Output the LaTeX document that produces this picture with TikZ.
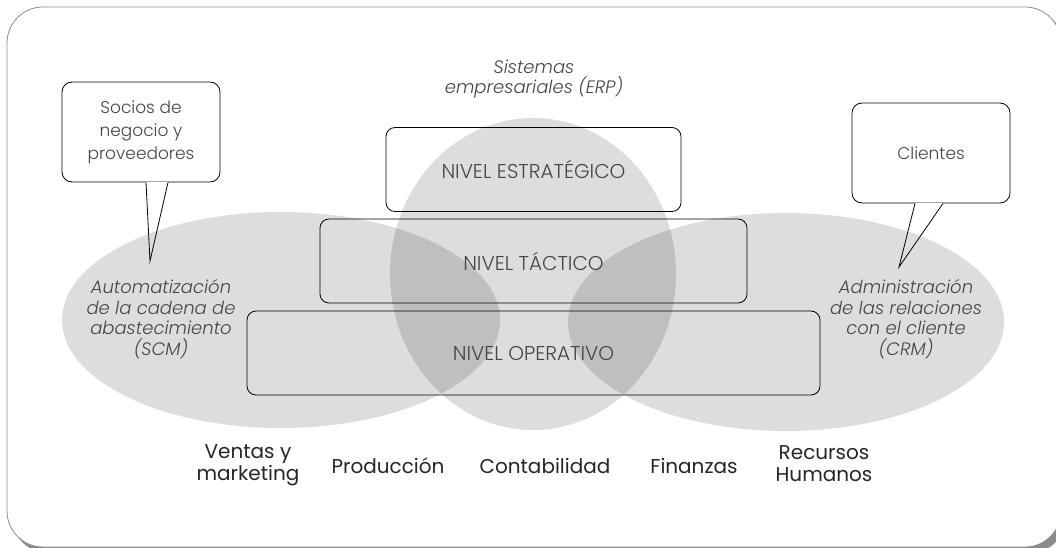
\documentclass[tikz,border=0pt]{standalone}
\usepackage{fontspec}
\setmainfont{Poppins}
\newfontfamily\lightfont{Poppins Light}
\usetikzlibrary{positioning}

\definecolor{inkgray}{RGB}{70,70,70}
\definecolor{framegray}{RGB}{140,140,140}

\tikzset{
  area/.style={fill=black, fill opacity=0.135},
  level/.style={draw, line width=0.8pt, rounded corners=9, minimum height=84,
    text=inkgray, font=\lightfont\fontsize{20}{22}\selectfont},
  bubble/.style={draw, line width=0.8pt, rounded corners=10, minimum width=158,
    minimum height=100, align=center, text=inkgray,
    font=\lightfont\fontsize{17}{23}\selectfont},
  note/.style={align=center, text=inkgray, font=\lightfont\itshape\fontsize{18}{20.5}\selectfont},
  dept/.style={align=center, text=black!85, font=\fontsize{20}{22}\selectfont}
}

\begin{document}
\begin{tikzpicture}[x=1pt,y=-1pt]
        \useasboundingbox (0,0) rectangle (1056,548);

        % frame with shadow
        \fill[black!45, rounded corners=36] (12,12) rectangle (1066,553);
        \filldraw[draw=framegray, fill=white, line width=0.8pt, rounded corners=36] (7,7) rectangle (1061,547);

        % overlapping areas
        \fill[area] (281,320) ellipse [x radius=219, y radius=108];
        \fill[area] (786,322) ellipse [x radius=218, y radius=109];
        \fill[area] (533,274) ellipse [x radius=143, y radius=156];

        % levels
        \node[level, minimum width=295] (estrategico) at (533.5,169.5) {NIVEL ESTRATÉGICO};
        \node[level, minimum width=427] (tactico) at (533.5,261) {NIVEL TÁCTICO};
        \node[level, minimum width=573] (operativo) at (533.5,353) {NIVEL OPERATIVO};

        % area labels
        \node[note] (erp) at (534,79) {Sistemas\\empresariales (ERP)};
        \node[note] (scm) at (161,319) {Automatización\\de la cadena de\\abastecimiento\\(SCM)};
        \node[note] (crm) at (906,319) {Administración\\de las relaciones\\con el cliente\\(CRM)};

        % callouts
        \node[bubble] (socios) at (141,132) {Socios de\\negocio y\\proveedores};
        \coordinate (sociostip) at (150,261);
        \draw[white, line width=1.4pt] ([xshift=5]socios.south) -- ([xshift=27]socios.south);
        \draw[line width=0.8pt] ([xshift=5]socios.south) -- (sociostip) -- ([xshift=27]socios.south);

        \node[bubble] (clientes) at (931,153) {Clientes};
        \coordinate (clientestip) at (899,267);
        \draw[white, line width=1.4pt] ([xshift=-16]clientes.south) -- ([xshift=12]clientes.south);
        \draw[line width=0.8pt] ([xshift=-16]clientes.south) -- (clientestip) -- ([xshift=12]clientes.south);

        % departments
        \node[dept] (ventas) at (248,465) {Ventas y\\marketing};
        \node[dept] (produccion) at (388,466) {Producción};
        \node[dept] (contabilidad) at (545,466) {Contabilidad};
        \node[dept] (finanzas) at (694,466) {Finanzas};
        \node[dept] (rrhh) at (824,464) {Recursos\\Humanos};
    \end{tikzpicture}
\end{document}
